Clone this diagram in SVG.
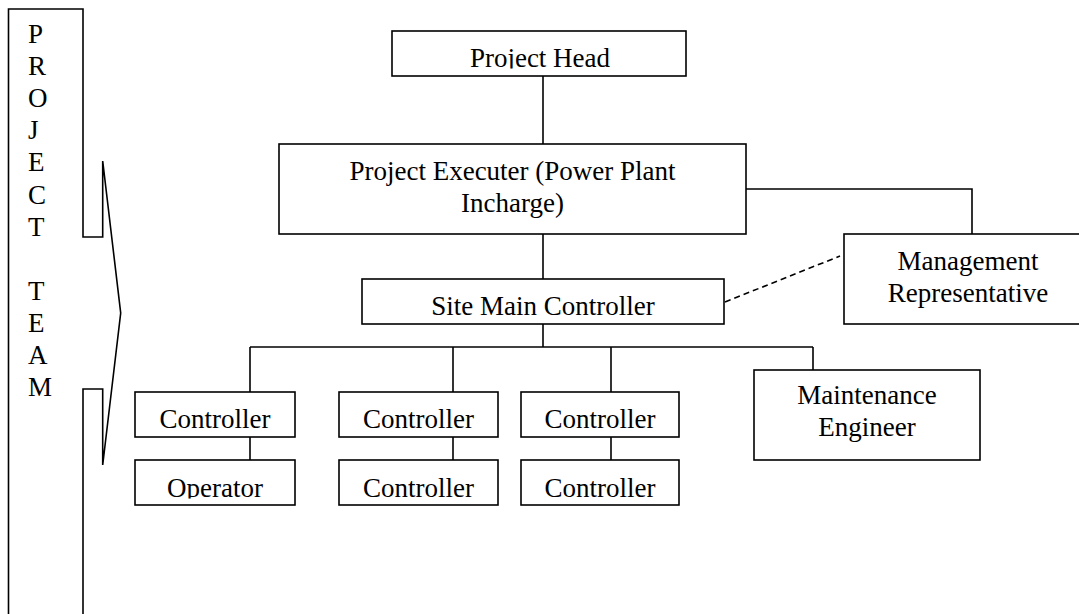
<svg xmlns="http://www.w3.org/2000/svg" width="1079" height="614" viewBox="0 0 1079 614">
<style>
.b{fill:#fff;stroke:#000;stroke-width:1.6}
.l{fill:none;stroke:#000;stroke-width:1.6}
.d{fill:none;stroke:#000;stroke-width:1.6;stroke-dasharray:6 4}
text{font-family:"Liberation Serif","Times New Roman",serif;font-size:27px;fill:#000}
.c{text-anchor:middle}
</style>
<defs>
<clipPath id="clipHead"><rect x="392" y="31" width="294" height="37.5"/></clipPath>
<clipPath id="clipRow2"><rect x="0" y="460" width="1079" height="38.5"/></clipPath>
</defs>
<rect width="1079" height="614" fill="#fff"/>
<g id="project-team">
<path class="l" d="M8.5,614 V9 H83 V237 H102.7 V161 L120.7,313 L102.7,465 V389 H83 V614"/>
<text x="28" y="43">P</text>
<text x="28" y="75.1">R</text>
<text x="28" y="107.2">O</text>
<text x="28" y="139.3">J</text>
<text x="28" y="171.4">E</text>
<text x="28" y="203.5">C</text>
<text x="28" y="235.6">T</text>
<text x="28" y="299.8">T</text>
<text x="28" y="331.9">E</text>
<text x="28" y="364">A</text>
<text x="28" y="396.1">M</text>
</g>
<g id="connectors">
<line class="l" x1="543" y1="76" x2="543" y2="144"/>
<polyline class="l" points="746,189 972,189 972,234"/>
<line class="l" x1="543" y1="234" x2="543" y2="279"/>
<line class="d" x1="725" y1="302" x2="840" y2="256"/>
<line class="l" x1="543" y1="324" x2="543" y2="347"/>
<line class="l" x1="250" y1="347" x2="813" y2="347"/>
<line class="l" x1="250" y1="347" x2="250" y2="392"/>
<line class="l" x1="453" y1="347" x2="453" y2="392"/>
<line class="l" x1="611" y1="347" x2="611" y2="392"/>
<line class="l" x1="813" y1="347" x2="813" y2="370"/>
<line class="l" x1="250" y1="437" x2="250" y2="460"/>
<line class="l" x1="453" y1="437" x2="453" y2="460"/>
<line class="l" x1="611" y1="437" x2="611" y2="460"/>
</g>
<g id="project-head">
<rect class="b" x="392" y="31" width="294" height="45"/>
<text class="c" x="540" y="67" clip-path="url(#clipHead)">Project Head</text>
</g>
<g id="project-executer">
<rect class="b" x="279" y="144" width="467" height="90"/>
<text class="c" x="512.5" y="180">Project Executer (Power Plant</text>
<text class="c" x="512.5" y="212">Incharge)</text>
</g>
<g id="management-representative">
<rect class="b" x="844" y="234" width="248" height="90"/>
<text class="c" x="968" y="270">Management</text>
<text class="c" x="968" y="302">Representative</text>
</g>
<g id="site-main-controller">
<rect class="b" x="362" y="279" width="362" height="45"/>
<text class="c" x="543" y="315">Site Main Controller</text>
</g>
<g id="controller-1">
<rect class="b" x="135" y="392" width="160" height="45"/>
<text class="c" x="215" y="428">Controller</text>
</g>
<g id="controller-2">
<rect class="b" x="339" y="392" width="159" height="45"/>
<text class="c" x="418.5" y="428">Controller</text>
</g>
<g id="controller-3">
<rect class="b" x="521" y="392" width="158" height="45"/>
<text class="c" x="600" y="428">Controller</text>
</g>
<g id="maintenance-engineer">
<rect class="b" x="754" y="370" width="226" height="90"/>
<text class="c" x="867" y="404">Maintenance</text>
<text class="c" x="867" y="436">Engineer</text>
</g>
<g id="operator">
<rect class="b" x="135" y="460" width="160" height="45"/>
<text class="c" x="215" y="497" clip-path="url(#clipRow2)">Operator</text>
</g>
<g id="controller-4">
<rect class="b" x="339" y="460" width="159" height="45"/>
<text class="c" x="418.5" y="497" clip-path="url(#clipRow2)">Controller</text>
</g>
<g id="controller-5">
<rect class="b" x="521" y="460" width="158" height="45"/>
<text class="c" x="600" y="497" clip-path="url(#clipRow2)">Controller</text>
</g>
</svg>
